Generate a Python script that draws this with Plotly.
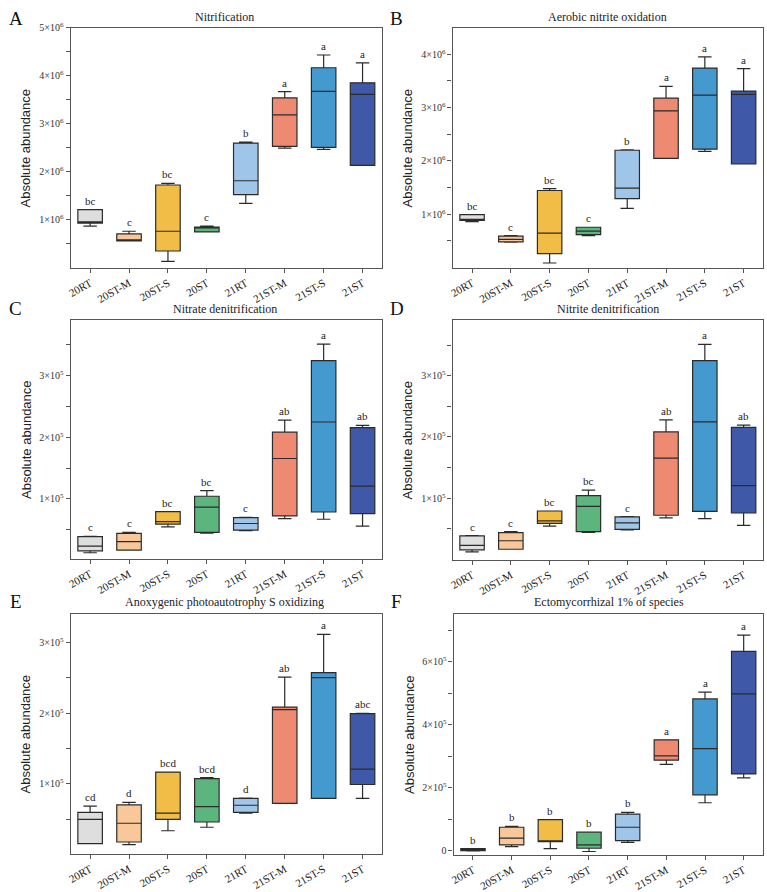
import plotly.graph_objects as go

W, H = 767, 892

categories = ["20RT", "20ST-M", "20ST-S", "20ST", "21RT", "21ST-M", "21ST-S", "21ST"]
colors = ["#DEDEDE", "#F8C89A", "#F1BD47", "#5DB57E", "#9FC5E8", "#EF8A72", "#4499CF", "#3F59A8"]

# Panel A: Nitrification (x1e6)
a_low = [0.865, 0.554, 0.128, 0.743, 1.338, 2.491, 2.464, 2.13]
a_q1 = [0.926, 0.554, 0.345, 0.743, 1.52, 2.526, 2.505, 2.13]
a_med = [0.953, 0.56, 0.757, 0.83, 1.809, 3.181, 3.672, 3.611]
a_q3 = [1.209, 0.703, 1.72, 0.845, 2.594, 3.536, 4.164, 3.85]
a_up = [1.209, 0.757, 1.755, 0.865, 2.614, 3.666, 4.43, 4.266]
a_letters = ["bc", "c", "bc", "c", "b", "a", "a", "a"]

# Panel B: Aerobic nitrite oxidation (x1e6)
b_low = [0.86, 0.476, 0.085, 0.598, 1.11, 2.05, 2.178, 1.945]
b_q1 = [0.884, 0.48, 0.262, 0.616, 1.293, 2.049, 2.221, 1.945]
b_med = [0.896, 0.53, 0.646, 0.683, 1.49, 2.94, 3.233, 3.25]
b_q3 = [0.994, 0.59, 1.445, 0.756, 2.20, 3.178, 3.742, 3.31]
b_up = [0.994, 0.60, 1.48, 0.756, 2.21, 3.40, 3.95, 3.73]
b_letters = ["bc", "c", "bc", "c", "b", "a", "a", "a"]

# Panel C: Nitrate denitrification (x1e5)
c_low = [0.125, 0.168, 0.547, 0.445, 0.483, 0.68, 0.669, 0.557]
c_q1 = [0.157, 0.168, 0.59, 0.456, 0.493, 0.723, 0.787, 0.76]
c_med = [0.232, 0.307, 0.632, 0.867, 0.6, 1.656, 2.248, 1.208]
c_q3 = [0.387, 0.44, 0.792, 1.043, 0.696, 2.083, 3.245, 2.157]
c_up = [0.39, 0.456, 0.792, 1.133, 0.70, 2.28, 3.512, 2.195]
c_letters = ["c", "c", "bc", "bc", "c", "ab", "a", "ab"]

# Panel D: Nitrite denitrification (x1e5)
d_low = [0.125, 0.168, 0.547, 0.445, 0.483, 0.68, 0.669, 0.557]
d_q1 = [0.157, 0.168, 0.59, 0.456, 0.493, 0.723, 0.787, 0.76]
d_med = [0.232, 0.307, 0.632, 0.867, 0.6, 1.656, 2.248, 1.208]
d_q3 = [0.387, 0.44, 0.792, 1.043, 0.696, 2.083, 3.245, 2.157]
d_up = [0.39, 0.456, 0.792, 1.133, 0.70, 2.28, 3.512, 2.195]
d_letters = ["c", "c", "bc", "bc", "c", "ab", "a", "ab"]

# Panel E: Anoxygenic photoautotrophy S oxidizing (x1e5)
e_low = [0.155, 0.141, 0.337, 0.387, 0.587, 0.726, 0.796, 0.796]
e_q1 = [0.155, 0.178, 0.499, 0.461, 0.596, 0.726, 0.796, 0.992]
e_med = [0.499, 0.443, 0.587, 0.68, 0.698, 2.05, 2.504, 1.21]
e_q3 = [0.596, 0.703, 1.167, 1.074, 0.796, 2.087, 2.574, 1.995]
e_up = [0.685, 0.74, 1.167, 1.089, 0.80, 2.51, 3.116, 2.0]
e_letters = ["cd", "d", "bcd", "bcd", "d", "ab", "a", "abc"]

# Panel F: Ectomycorrhizal 1% of species (x1e5)
f_low = [0.0, 0.135, 0.073, -0.02, 0.27, 2.744, 1.528, 2.318]
f_q1 = [0.01, 0.1875, 0.29, 0.083, 0.323, 2.879, 1.778, 2.443]
f_med = [0.035, 0.406, 0.30, 0.1875, 0.75, 3.015, 3.243, 4.98]
f_q3 = [0.07, 0.75, 0.99, 0.594, 1.167, 3.524, 4.823, 6.33]
f_up = [0.075, 0.78, 0.99, 0.594, 1.22, 3.524, 5.04, 6.85]
f_letters = ["b", "b", "b", "b", "b", "a", "a", "a"]

panels = [
    dict(letter="A", title="Nitrification", scale=1e6, data=(a_low, a_q1, a_med, a_q3, a_up), letters=a_letters,
         px=(67, 380), py=(21, 265), yr=(0, 5.0),
         major=[1, 2, 3, 4, 5], minor=[0.5, 1.5, 2.5, 3.5, 4.5], exp=6, lpos=(12, 12), tpos=(222, 10)),
    dict(letter="B", title="Aerobic nitrite oxidation", scale=1e6, data=(b_low, b_q1, b_med, b_q3, b_up), letters=b_letters,
         px=(451, 763), py=(21, 265), yr=(0, 4.5),
         major=[1, 2, 3, 4], minor=[0.5, 1.5, 2.5, 3.5], exp=6, lpos=(395, 12), tpos=(607, 10)),
    dict(letter="C", title="Nitrate denitrification", scale=1e5, data=(c_low, c_q1, c_med, c_q3, c_up), letters=c_letters,
         px=(67, 380), py=(318, 561), yr=(0.031, 3.91),
         major=[1, 2, 3], minor=[0.5, 1.5, 2.5, 3.5], exp=5, lpos=(12, 307), tpos=(222, 307)),
    dict(letter="D", title="Nitrite denitrification", scale=1e5, data=(d_low, d_q1, d_med, d_q3, d_up), letters=d_letters,
         px=(451, 763), py=(318, 562), yr=(0.0, 3.915),
         major=[1, 2, 3], minor=[0.5, 1.5, 2.5, 3.5], exp=5, lpos=(395, 307), tpos=(607, 307)),
    dict(letter="E", title="Anoxygenic photoautotrophy S oxidizing", scale=1e5, data=(e_low, e_q1, e_med, e_q3, e_up), letters=e_letters,
         px=(67, 380), py=(617, 861), yr=(0.015, 3.41),
         major=[1, 2, 3], minor=[0.5, 1.5, 2.5], exp=5, lpos=(12, 605), tpos=(222, 605)),
    dict(letter="F", title="Ectomycorrhizal 1% of species", scale=1e5, data=(f_low, f_q1, f_med, f_q3, f_up), letters=f_letters,
         px=(452, 763), py=(617, 862), yr=(-0.115, 7.53),
         major=[0, 2, 4, 6], minor=[1, 3, 5, 7], exp=5, lpos=(395, 605), tpos=(608, 605)),
]

SERIF = "Liberation Serif, Times New Roman, serif"
SANS = "Liberation Sans, Arial, sans-serif"

fig = go.Figure()
annotations = []

for i, p in enumerate(panels):
    n = i + 1
    xa = "x" if n == 1 else f"x{n}"
    ya = "y" if n == 1 else f"y{n}"
    s = p["scale"]
    low, q1, med, q3, up = p["data"]
    for j, cat in enumerate(categories):
        fig.add_trace(go.Box(
            x=[cat], q1=[q1[j] * s], median=[med[j] * s], q3=[q3[j] * s],
            lowerfence=[low[j] * s], upperfence=[up[j] * s],
            fillcolor=colors[j], line=dict(color="#2b2b2b", width=1.2),
            width=0.63, whiskerwidth=0.55, boxpoints=False,
            showlegend=False, xaxis=xa, yaxis=ya, hoverinfo="skip",
        ))
        annotations.append(dict(
            x=cat, y=up[j] * s, xref=xa, yref=ya, text=p["letters"][j],
            showarrow=False, yanchor="middle", yshift=9,
            font=dict(family=SERIF, size=11, color="#222"),
        ))
    x0, x1 = p["px"]
    y0, y1 = p["py"]
    unit = 10 ** p["exp"]
    tickvals = [m * unit for m in p["major"]]
    ticktext = ["0" if m == 0 else f"{m}×10<sup>{p['exp']}</sup>" for m in p["major"]]
    minorvals = [m * unit for m in p["minor"]]
    xkey = "xaxis" if n == 1 else f"xaxis{n}"
    ykey = "yaxis" if n == 1 else f"yaxis{n}"
    fig.update_layout(**{
        xkey: dict(
            domain=[x0 / W, x1 / W], anchor=ya, type="category",
            categoryorder="array", categoryarray=categories, range=[-0.5, 7.5],
            showline=True, linecolor="#555", linewidth=1.3, mirror=True,
            ticks="outside", ticklen=4, tickcolor="#555", tickangle=-30,
            tickfont=dict(family=SERIF, size=11, color="#222"),
            showgrid=False, zeroline=False,
        ),
        ykey: dict(
            domain=[1 - y1 / H, 1 - y0 / H], anchor=xa,
            range=[p["yr"][0] * s, p["yr"][1] * s],
            tickmode="array", tickvals=tickvals, ticktext=ticktext,
            showline=True, linecolor="#555", linewidth=1.3, mirror=True,
            ticks="outside", ticklen=4, tickcolor="#555",
            tickfont=dict(family=SERIF, size=10, color="#333"),
            minor=dict(tickmode="array", tickvals=minorvals, ticks="outside",
                       ticklen=4, tickcolor="#555", showgrid=False),
            showgrid=False, zeroline=False,
        ),
    })
    annotations.append(dict(
        x=p["lpos"][0] / W, y=1 - p["lpos"][1] / H, xref="paper", yref="paper",
        text=p["letter"], showarrow=False, xanchor="center", yanchor="middle",
        font=dict(family=SERIF, size=19, color="#111"),
    ))
    annotations.append(dict(
        x=p["tpos"][0] / W, y=1 - p["tpos"][1] / H, xref="paper", yref="paper",
        text=p["title"], showarrow=False, xanchor="center", yanchor="middle",
        font=dict(family=SERIF, size=12, color="#222"),
    ))
    annotations.append(dict(
        x=(x0 - 45) / W, y=1 - ((y0 + y1) / 2) / H, xref="paper", yref="paper",
        text="Absolute abundance", showarrow=False, textangle=-90,
        xanchor="center", yanchor="middle",
        font=dict(family=SANS, size=13, color="#222"),
    ))

fig.update_layout(
    width=W, height=H, margin=dict(l=0, r=0, t=0, b=0),
    paper_bgcolor="white", plot_bgcolor="white",
    boxmode="overlay", annotations=annotations,
)

fig.write_html("out.html")
